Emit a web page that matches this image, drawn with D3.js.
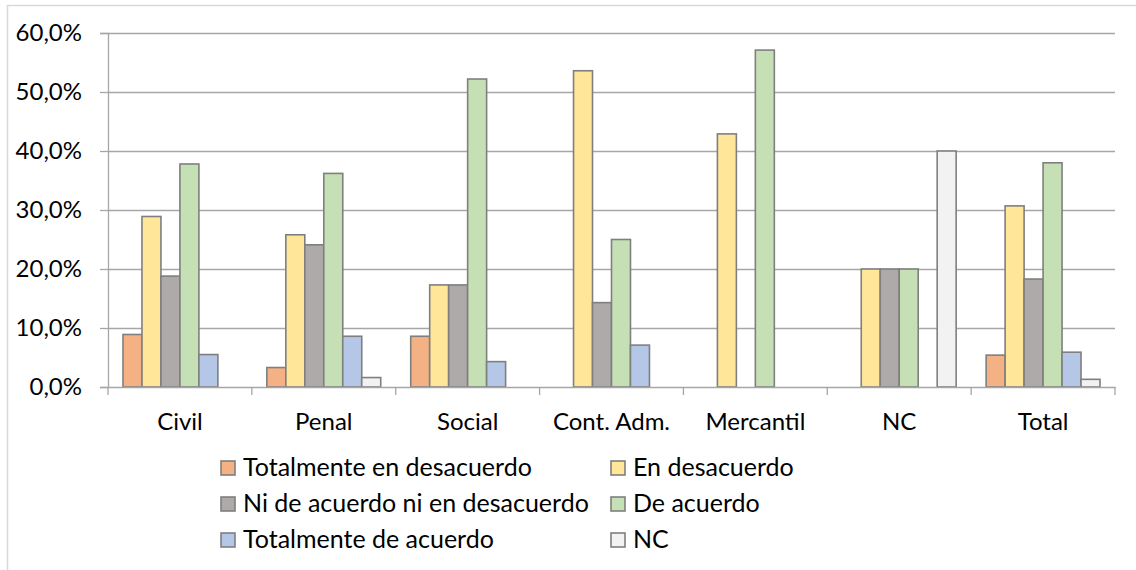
<!DOCTYPE html>
<html lang="es">
<head>
  <meta charset="UTF-8">
  <title>Grado de acuerdo por jurisdicción</title>
  <script src="https://d3js.org/d3.v7.min.js"></script>
  <style>
    body {
      margin: 0;
      background: #fff;
    }
    text {
      font-family: Lato, "Open Sans", sans-serif;
      fill: #000;
    }
  </style>
</head>
<body>
  <script>
    // Categories on the x axis
    const categories = ["Civil", "Penal", "Social", "Cont. Adm.", "Mercantil", "NC", "Total"];

    // Series names (legend order)
    const series = [
      "Totalmente en desacuerdo",
      "En desacuerdo",
      "Ni de acuerdo ni en desacuerdo",
      "De acuerdo",
      "Totalmente de acuerdo",
      "NC"
    ];

    // Values per series, in % (one per category)
    const totalmenteDesacuerdo = [8.9, 3.3, 8.6, 0, 0, 0, 5.4];
    const enDesacuerdo         = [28.9, 25.8, 17.3, 53.6, 42.9, 20, 30.7];
    const niNi                 = [18.8, 24.1, 17.3, 14.3, 0, 20, 18.3];
    const deAcuerdo            = [37.8, 36.2, 52.2, 25.0, 57.1, 20, 38.0];
    const totalmenteAcuerdo    = [5.5, 8.6, 4.3, 7.1, 0, 0, 5.9];
    const nc                   = [0, 1.6, 0, 0, 0, 40, 1.3];

    const yTicks = [0, 10, 20, 30, 40, 50, 60];

    const colors = ["#F4B183", "#FFE699", "#AEAAAA", "#C5E0B4", "#B4C7E7", "#F2F2F2"];

    const valuesBySeries = [totalmenteDesacuerdo, enDesacuerdo, niNi, deAcuerdo, totalmenteAcuerdo, nc];

    const rows = [];
    categories.forEach((c, i) => {
      series.forEach((s, j) => {
        rows.push({ category: c, series: s, value: valuesBySeries[j][i], color: colors[j] });
      });
    });

    const width = 1136;
    const height = 570;
    const plot = { left: 108, right: 1115, top: 33, bottom: 387 };

    const svg = d3.select("body")
      .append("svg")
      .attr("width", width)
      .attr("height", height);

    // chart border
    svg.append("rect")
      .attr("x", 7.5)
      .attr("y", 5.5)
      .attr("width", width)
      .attr("height", height)
      .attr("fill", "none")
      .attr("stroke", "#D9D9D9")
      .attr("stroke-width", 1.5);

    const x0 = d3.scaleBand()
      .domain(categories)
      .range([plot.left, plot.right]);

    const x1 = d3.scaleBand()
      .domain(series)
      .range([0, x0.bandwidth()])
      .paddingOuter(0.79);

    const y = d3.scaleLinear()
      .domain([0, 60])
      .range([plot.bottom, plot.top]);

    // gridlines
    svg.append("g")
      .selectAll("line")
      .data(yTicks.filter(d => d > 0))
      .enter()
      .append("line")
      .attr("x1", plot.left)
      .attr("x2", plot.right)
      .attr("y1", d => Math.round(y(d)) + 0.5)
      .attr("y2", d => Math.round(y(d)) + 0.5)
      .attr("stroke", "#A6A6A6")
      .attr("stroke-width", 1.3);

    // y axis
    const yAxis = svg.append("g")
      .attr("transform", `translate(${plot.left},0)`)
      .call(d3.axisLeft(y)
        .tickValues(yTicks)
        .tickSize(8)
        .tickPadding(18)
        .tickFormat(d => d.toFixed(1).replace(".", ",") + "%"));
    yAxis.select(".domain").attr("stroke", "#A6A6A6").attr("stroke-width", 1.3);
    yAxis.selectAll(".tick line").attr("stroke", "#A6A6A6").attr("stroke-width", 1.3);
    yAxis.selectAll("text")
      .attr("font-size", 24)
      .attr("fill", "#000");

    // bars
    svg.append("g")
      .selectAll("rect")
      .data(rows.filter(d => d.value > 0))
      .enter()
      .append("rect")
      .attr("x", d => x0(d.category) + x1(d.series))
      .attr("y", d => y(d.value))
      .attr("width", x1.bandwidth())
      .attr("height", d => y(0) - y(d.value))
      .attr("fill", d => d.color)
      .attr("stroke", "#7F7F7F")
      .attr("stroke-width", 1.6);

    // x axis
    const xAxis = svg.append("g")
      .attr("transform", `translate(0,${plot.bottom})`)
      .call(d3.axisBottom(x0).tickSize(0).tickPadding(26));
    xAxis.select(".domain").attr("stroke", "#A6A6A6").attr("stroke-width", 1.3);
    xAxis.selectAll("text")
      .attr("font-size", 24)
      .attr("fill", "#000");

    // category separator ticks
    const sepPositions = categories.map(c => x0(c)).concat([plot.right]);
    xAxis.selectAll(".sep")
      .data(sepPositions)
      .enter()
      .append("line")
      .attr("class", "sep")
      .attr("x1", d => d)
      .attr("x2", d => d)
      .attr("y1", 0)
      .attr("y2", 8)
      .attr("stroke", "#A6A6A6")
      .attr("stroke-width", 1.3);

    // legend
    const legend = svg.append("g");
    const legendItems = legend.selectAll("g")
      .data(series)
      .enter()
      .append("g")
      .attr("transform", (d, i) => `translate(${i % 2 === 0 ? 221 : 611},${461 + Math.floor(i / 2) * 36})`);

    legendItems.append("rect")
      .attr("width", 14)
      .attr("height", 14)
      .attr("fill", (d, i) => colors[i])
      .attr("stroke", "#7F7F7F")
      .attr("stroke-width", 1.6);

    legendItems.append("text")
      .attr("x", 22)
      .attr("y", 15)
      .attr("font-size", 25)
      .text(d => d);
  </script>
</body>
</html>
